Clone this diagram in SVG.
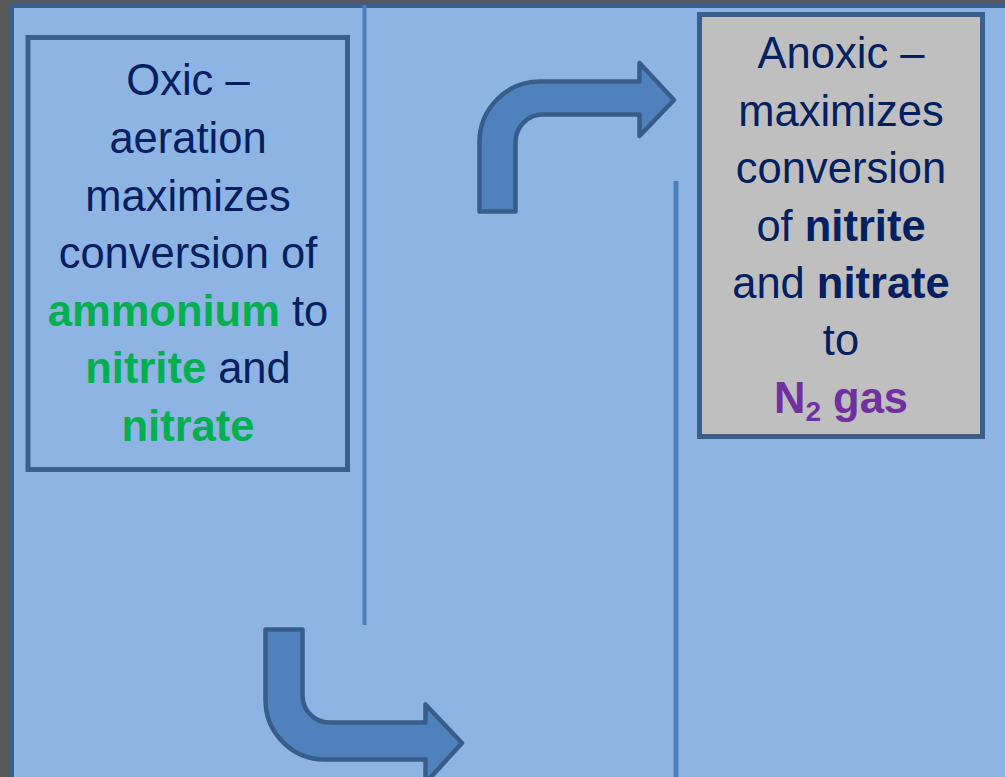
<svg xmlns="http://www.w3.org/2000/svg" width="1005" height="777" viewBox="0 0 1005 777">
<style>
.t{font-family:"Liberation Sans",Arial,sans-serif;font-size:43.5px;fill:#002060;text-anchor:middle}
.b{font-weight:bold}
.g{fill:#00B050;font-weight:bold}
.p{fill:#7030A0;font-weight:bold}
.box{stroke:#3A5F8A;stroke-width:5}
.arrow{fill:#4F81BD;stroke:#385D8A;stroke-width:4.5;stroke-linejoin:round}
.div{stroke:#4A7EBB;fill:none}
</style>
<rect x="0" y="0" width="1005" height="777" fill="#595959"/>
<rect x="11.5" y="5.5" width="1100" height="900" rx="2" fill="#8EB4E3" stroke="#3A5F8A" stroke-width="5"/>
<g id="dividers">
<line class="div" x1="364.5" y1="5" x2="364.5" y2="625" stroke-width="4"/>
<line class="div" x1="676" y1="181" x2="676" y2="777" stroke-width="5"/>
</g>
<g id="oxic">
<rect class="box" x="28" y="37.5" width="319.5" height="432" fill="#8EB4E3"/>
<text class="t" x="188" y="95">Oxic –</text>
<text class="t" x="188" y="153">aeration</text>
<text class="t" x="188" y="210.5">maximizes</text>
<text class="t" x="188" y="268">conversion of</text>
<text class="t" x="188" y="325.5"><tspan class="g">ammonium</tspan> to</text>
<text class="t" x="188" y="383"><tspan class="g">nitrite</tspan> and</text>
<text class="t" x="188" y="440.5"><tspan class="g">nitrate</tspan></text>
</g>
<g id="anoxic">
<rect class="box" x="699.5" y="14.5" width="283" height="422" fill="#BFBFBF"/>
<text class="t" x="841" y="68">Anoxic –</text>
<text class="t" x="841" y="126">maximizes</text>
<text class="t" x="841" y="183">conversion</text>
<text class="t" x="841" y="241">of <tspan class="b">nitrite</tspan></text>
<text class="t" x="841" y="298">and <tspan class="b">nitrate</tspan></text>
<text class="t" x="841" y="355">to</text>
<text class="t" x="841" y="413"><tspan class="p">N</tspan><tspan class="p" font-size="28" dy="8">2</tspan><tspan class="p" dy="-8"> gas</tspan></text>
</g>
<g id="connectors">
<path class="arrow" d="M479.5,211.5 L479.5,142 A60.5,60.5 0 0 1 540,81.5 L639.5,81.5 L639.5,63 L674,100 L639.5,136 L639.5,114.5 L543,114.5 A27.5,27.5 0 0 0 515.5,142 L515.5,211.5 Z"/>
<path class="arrow" d="M265.5,629.5 L265.5,700 A59.5,59.5 0 0 0 325,759.5 L425.5,759.5 L425.5,783 L462,743 L425.5,704.5 L425.5,722.5 L329.5,722.5 A27,27 0 0 1 302.5,695.5 L302.5,629.5 Z"/>
</g>
</svg>
